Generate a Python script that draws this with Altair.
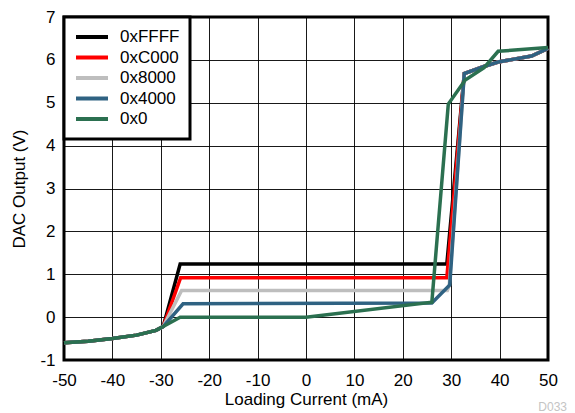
import altair as alt
import pandas as pd

series_names = ["0xFFFF", "0xC000", "0x8000", "0x4000", "0x0"]
series_colors = ["#000000", "#FF0000", "#BEBEBE", "#2F6282", "#2B7050"]

# shared negative-current branch
left_x = [-50, -45, -40, -35, -31, -29.5]
left_y = [-0.60, -0.56, -0.50, -0.42, -0.31, -0.22]

# shared high-current branch (non-zero codes)
top_x = [32.7, 36.6, 39.7, 46.6, 50]
top_y = [5.68, 5.84, 5.95, 6.09, 6.27]

ffff_x = [-26.0, 29.1]
ffff_y = [1.24, 1.24]
c000_x = [-25.9, 29.1]
c000_y = [0.92, 0.92]
h8000_x = [-25.7, 29.2, 29.6]
h8000_y = [0.62, 0.62, 0.74]
h4000_x = [-25.4, 26.0, 29.7]
h4000_y = [0.31, 0.33, 0.75]
zero_x = [-26.0, 0, 26.0, 29.4, 32.9, 36.8, 39.7, 50]
zero_y = [0.0, 0.0, 0.35, 4.97, 5.53, 5.82, 6.20, 6.29]

x_ticks = [-50, -40, -30, -20, -10, 0, 10, 20, 30, 40, 50]
y_ticks = [-1, 0, 1, 2, 3, 4, 5, 6, 7]

mids = [
    (ffff_x, ffff_y, True),
    (c000_x, c000_y, True),
    (h8000_x, h8000_y, True),
    (h4000_x, h4000_y, True),
    (zero_x, zero_y, False),
]

rows = []
for name, (mx, my, use_top) in zip(series_names, mids):
    xs = left_x + mx + (top_x if use_top else [])
    ys = left_y + my + (top_y if use_top else [])
    for i, (a, b) in enumerate(zip(xs, ys)):
        rows.append({"series": name, "x": a, "y": b, "idx": i})
df = pd.DataFrame(rows)

font = "Liberation Sans"

lines = alt.Chart(df).mark_line(strokeWidth=3.5, strokeJoin="miter").encode(
    x=alt.X("x:Q", scale=alt.Scale(domain=[-50, 50], nice=False),
            axis=alt.Axis(values=x_ticks, title="Loading Current (mA)",
                          labelExpr="datum.value + ''", labelFlush=False,
                          labelOverlap=False)),
    y=alt.Y("y:Q", scale=alt.Scale(domain=[-1, 7], nice=False),
            axis=alt.Axis(values=y_ticks, title="DAC Output (V)",
                          labelExpr="datum.value + ''", labelFlush=False,
                          labelOverlap=False)),
    color=alt.Color("series:N",
                    scale=alt.Scale(domain=series_names, range=series_colors),
                    sort=series_names,
                    legend=alt.Legend(title=None, orient="top-left", offset=0)),
    order=alt.Order("idx:Q"),
)

note_df = pd.DataFrame({"x": [50], "y": [-1], "label": ["D033"]})
note = alt.Chart(note_df).mark_text(
    align="right", baseline="alphabetic", dx=19, dy=51,
    fontSize=12, color="#C4C4C4", font=font
).encode(x="x:Q", y="y:Q", text="label:N")

chart = alt.layer(lines, note).properties(
    width=484, height=343,
    autosize=alt.AutoSizeParams(type="none"),
    padding={"left": 56, "top": 9, "right": 19, "bottom": 53},
).configure_view(
    stroke="#000000", strokeWidth=3
).configure_axis(
    grid=True, gridColor="#000000", gridWidth=1, gridOpacity=0.9,
    domain=False, ticks=False, tickSize=0,
    labelFont=font, labelFontSize=17, labelColor="#000000",
    titleFont=font, titleFontSize=17, titleColor="#000000", titleFontWeight="normal",
    labelPadding=9,
).configure_axisX(
    labelPadding=12, titlePadding=3,
).configure_axisY(
    titlePadding=11,
).configure_legend(
    strokeColor="#000000", strokeWidth=3, fillColor="#FFFFFF",
    padding=10, symbolType="stroke", symbolSize=1024, symbolStrokeWidth=4,
    labelFont=font, labelFontSize=17, labelColor="#000000",
    clipHeight=20, rowPadding=0.5, labelOffset=10, cornerRadius=0,
)

chart.save("out.html", embed_options={"renderer": "svg", "actions": False})
